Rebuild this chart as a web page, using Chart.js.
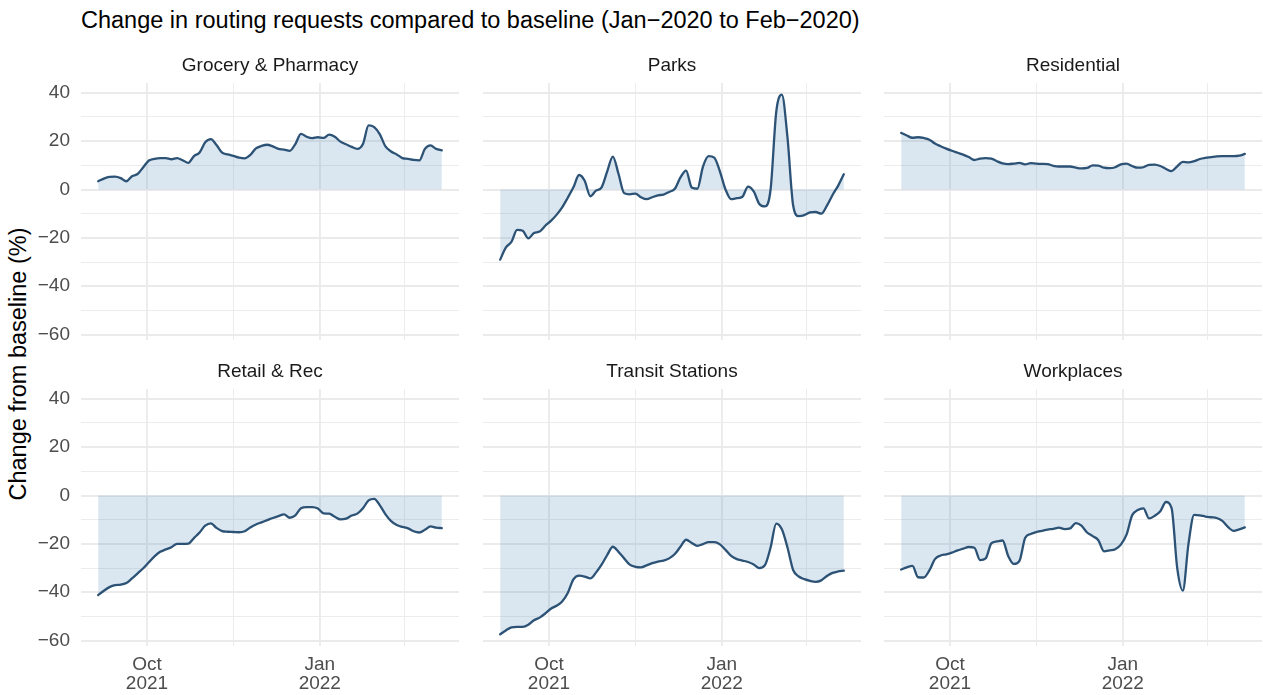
<!DOCTYPE html>
<html>
<head>
<meta charset="utf-8">
<script src="https://cdn.jsdelivr.net/npm/chart.js@4.4.1/dist/chart.umd.min.js"></script>
<style>
  html, body { margin: 0; padding: 0; background: #ffffff; }
  body {
    width: 1263px; height: 695px; position: relative; overflow: hidden;
    font-family: "Liberation Sans", Arial, Helvetica, sans-serif;
  }
  #title {
    position: absolute; left: 81px; top: 9.4px;
    font-size: 23.5px; line-height: 1; color: #000; white-space: nowrap;
  }
  #ytitle {
    position: absolute; left: 19px; top: 364px;
    font-size: 23.5px; line-height: 1; color: #000; white-space: nowrap;
    transform: translate(-50%, -50%) rotate(-90deg);
  }
  canvas { position: absolute; }
</style>
</head>
<body>
<div id="title">Change in routing requests compared to baseline (Jan−2020 to Feb−2020)</div>
<div id="ytitle">Change from baseline (%)</div>
<script>
const FONT = '"Liberation Sans", Arial, Helvetica, sans-serif';

// Observation dates (every third day)
const DATES = [
  '2021-09-05','2021-09-08','2021-09-11','2021-09-14','2021-09-17','2021-09-20','2021-09-23','2021-09-26','2021-09-29',
  '2021-10-02','2021-10-05','2021-10-08','2021-10-11','2021-10-14','2021-10-17','2021-10-20','2021-10-23','2021-10-26','2021-10-29',
  '2021-11-01','2021-11-04','2021-11-07','2021-11-10','2021-11-13','2021-11-16','2021-11-19','2021-11-22','2021-11-25','2021-11-28',
  '2021-12-01','2021-12-04','2021-12-07','2021-12-10','2021-12-13','2021-12-16','2021-12-19','2021-12-22','2021-12-25','2021-12-28','2021-12-31',
  '2022-01-03','2022-01-06','2022-01-09','2022-01-12','2022-01-15','2022-01-18','2022-01-21','2022-01-24','2022-01-27','2022-01-30',
  '2022-02-02','2022-02-05','2022-02-08','2022-02-11','2022-02-14','2022-02-17','2022-02-20','2022-02-23','2022-02-26',
  '2022-03-01','2022-03-04','2022-03-07'
];

const PANEL_NAMES = ['Grocery & Pharmacy', 'Parks', 'Residential', 'Retail & Rec', 'Transit Stations', 'Workplaces'];

// Change from baseline (%), one value per date
const GROCERY = [3.4, 4.5, 5.2, 5.3, 4.7, 3.4, 5.5, 6.4, 9.2, 12.0, 12.7, 13.0, 13.0, 12.5, 13.0, 12.1, 11.0, 13.8, 15.3, 19.5,
  20.8, 18.4, 15.2, 14.5, 13.9, 13.2, 12.9, 14.3, 17.0, 18.0, 18.5, 17.8, 16.8, 16.5, 16.0, 18.8, 23.0, 21.8, 21.2, 21.6,
  21.3, 22.7, 21.8, 19.8, 18.7, 17.6, 16.8, 18.8, 26.5, 25.8, 22.8, 17.8, 15.7, 14.5, 13.0, 12.7, 12.2, 12.0, 16.8, 18.2,
  16.8, 16.2];
const PARKS = [-29.0, -24.0, -21.7, -16.7, -17.1, -20.2, -18.0, -17.4, -15.0, -13.0, -10.5, -7.4, -3.4, 0.9, 6.0, 3.6, -2.8, -0.5, 0.9, 7.5,
  13.6, 6.5, -1.5, -2.0, -1.7, -3.2, -4.0, -3.2, -2.4, -2.1, -1.0, 0.3, 5.0, 7.8, 0.8, 0.3, 9.5, 13.8, 13.2, 7.5,
  0.0, -4.0, -3.6, -3.0, 1.2, -0.8, -6.0, -7.0, 0.0, 32.0, 39.2, 21.5, -6.5, -11.0, -10.6, -9.5, -9.3, -10.0, -6.7, -2.3,
  1.6, 6.3];
const RESIDENTIAL = [23.4, 22.3, 21.4, 21.6, 21.3, 20.6, 19.0, 17.9, 16.9, 16.0, 15.2, 14.4, 13.4, 12.2, 12.8, 13.0, 12.8, 11.7, 10.8, 10.5,
  10.7, 11.0, 10.4, 10.9, 10.7, 10.6, 10.5, 9.8, 9.5, 9.5, 9.5, 9.0, 8.7, 8.9, 10.0, 9.9, 9.0, 8.8, 9.2, 10.4,
  10.7, 9.7, 9.0, 9.2, 10.2, 10.3, 9.7, 8.5, 7.6, 9.6, 11.4, 11.2, 11.7, 12.6, 13.1, 13.4, 13.7, 13.8, 13.8, 13.8,
  14.0, 14.7];
const RETAIL = [-41.2, -39.4, -37.9, -37.1, -36.9, -36.2, -34.3, -32.2, -30.1, -27.6, -25.2, -23.3, -22.3, -21.4, -20.0, -20.0, -19.9, -17.6, -15.3, -12.5,
  -11.5, -13.4, -14.7, -15.0, -15.1, -15.2, -14.8, -13.2, -12.0, -11.1, -10.2, -9.3, -8.5, -7.8, -9.2, -8.2, -5.3, -4.8, -4.8, -5.4,
  -7.4, -7.5, -8.8, -9.9, -9.6, -8.3, -7.5, -5.3, -2.0, -1.4, -4.1, -7.8, -10.6, -12.2, -13.0, -13.6, -14.8, -15.3, -14.2, -12.8,
  -13.3, -13.5];
const TRANSIT = [-57.4, -55.8, -54.5, -54.3, -54.3, -53.4, -51.6, -50.5, -48.8, -46.8, -45.6, -43.8, -40.3, -34.7, -33.1, -33.5, -34.3, -31.9, -28.6, -24.6,
  -21.2, -23.3, -26.0, -28.6, -29.5, -29.7, -28.9, -28.0, -27.3, -26.9, -26.0, -24.2, -21.2, -18.3, -19.6, -20.8, -20.1, -19.3, -19.3, -20.2,
  -22.5, -25.0, -26.3, -26.9, -27.5, -28.5, -30.0, -28.8, -21.5, -11.6, -14.0, -21.5, -30.8, -33.5, -34.6, -35.3, -35.7, -35.1, -33.3, -32.0,
  -31.4, -31.1];
const WORKPLACES = [-30.6, -29.7, -29.1, -33.8, -33.9, -31.0, -26.3, -24.8, -24.3, -23.6, -22.7, -22.0, -21.3, -21.6, -26.7, -26.0, -19.8, -19.0, -18.6, -25.0,
  -28.3, -27.0, -17.6, -15.9, -15.1, -14.6, -14.1, -13.8, -13.3, -13.9, -13.6, -11.4, -12.5, -15.3, -16.8, -18.5, -23.1, -22.7, -22.2, -20.3,
  -16.2, -8.2, -6.0, -5.3, -9.5, -8.4, -6.5, -2.7, -5.2, -30.0, -39.3, -20.0, -8.0, -8.2, -8.7, -9.0, -9.3, -10.5, -13.0, -14.6,
  -14.0, -13.2];

const SERIES = [GROCERY, PARKS, RESIDENTIAL, RETAIL, TRANSIT, WORKPLACES];

// Axis breaks
const X_MAJOR = ['2021-10-01', '2022-01-01'];
const X_MAJOR_LABELS = [['Oct', '2021'], ['Jan', '2022']];
const X_MINOR = ['2021-11-16', '2022-02-15'];
const Y_MAJOR = [-60, -40, -20, 0, 20, 40];
const Y_MINOR = [-50, -30, -10, 10, 30];

// Dates become day offsets on a linear axis
const DAY_MS = 86400000;
const EPOCH = Date.parse(X_MAJOR[0]);
const toDay = s => (Date.parse(s) - EPOCH) / DAY_MS;
const xs = DATES.map(toDay);
const majorX = X_MAJOR.map(toDay);
const minorX = X_MINOR.map(toDay);
const xTickValues = [...majorX, ...minorX].sort((a, b) => a - b);
const yTickValues = [...Y_MAJOR, ...Y_MINOR].sort((a, b) => a - b);

// Shared (fixed) scales across facets with 5% expansion on each side
const allY = SERIES.flat();
const yLo = Math.min(...allY), yHi = Math.max(...allY);
const yPad = (yHi - yLo) * 0.05;
const xLo = xs[0], xHi = xs[xs.length - 1];
const xPad = (xHi - xLo) * 0.05;

// Facet grid geometry
const COL_LEFT = [81, 483, 884];
const ROW_TOP = [83, 389];
const PANEL_W = 378, PANEL_H = 257;
const STRIP_H = 40, YAXIS_W = 81, XAXIS_H = 49;

const GRID = '#ebebeb';
const LINE = '#2c5276';
const AREA = 'rgba(70, 130, 180, 0.2)';
const fmt = v => (v < 0 ? '\u2212' + Math.abs(v) : String(v));

SERIES.forEach((values, i) => {
  const row = Math.floor(i / 3), col = i % 3;
  const leftW = col === 0 ? YAXIS_W : 0;
  const bottomH = row === 1 ? XAXIS_H : 0;
  const w = PANEL_W + leftW;
  const h = PANEL_H + STRIP_H + bottomH;

  const canvas = document.createElement('canvas');
  canvas.width = w; canvas.height = h;
  canvas.style.width = w + 'px'; canvas.style.height = h + 'px';
  canvas.style.left = (COL_LEFT[col] - leftW) + 'px';
  canvas.style.top = (ROW_TOP[row] - STRIP_H) + 'px';
  document.body.appendChild(canvas);

  new Chart(canvas, {
    type: 'line',
    data: {
      datasets: [{
        data: xs.map((x, k) => ({ x, y: values[k] })),
        borderColor: LINE,
        borderWidth: 2.3,
        backgroundColor: AREA,
        fill: 'origin',
        pointRadius: 0,
        cubicInterpolationMode: 'monotone',
        borderJoinStyle: 'round',
        borderCapStyle: 'round'
      }]
    },
    options: {
      responsive: false,
      animation: false,
      devicePixelRatio: 1,
      events: [],
      layout: { padding: 0, autoPadding: false },
      plugins: {
        legend: { display: false },
        tooltip: { enabled: false },
        title: {
          display: true,
          text: PANEL_NAMES[i],
          fullSize: false,
          color: '#1a1a1a',
          font: { family: FONT, size: 19, weight: 'normal', lineHeight: 1.2 },
          padding: { top: 11, bottom: 6.2 }
        }
      },
      scales: {
        x: {
          type: 'linear',
          min: xLo - xPad,
          max: xHi + xPad,
          afterBuildTicks: s => { s.ticks = xTickValues.map(v => ({ value: v })); },
          afterFit: s => { s.height = bottomH; s.paddingLeft = 0; s.paddingRight = 0; },
          ticks: {
            display: row === 1,
            autoSkip: false,
            maxRotation: 0,
            padding: 9.6,
            color: '#4d4d4d',
            font: { family: FONT, size: 19, lineHeight: 1.0 },
            callback: v => {
              const k = majorX.indexOf(v);
              return k >= 0 ? X_MAJOR_LABELS[k] : '';
            }
          },
          grid: {
            drawTicks: false,
            color: GRID,
            lineWidth: c => (c.tick && majorX.includes(c.tick.value) ? 1.9 : 0.95)
          },
          border: { display: false }
        },
        y: {
          type: 'linear',
          min: yLo - yPad,
          max: yHi + yPad,
          afterBuildTicks: s => { s.ticks = yTickValues.map(v => ({ value: v })); },
          afterFit: s => { s.width = leftW; s.paddingTop = 0; s.paddingBottom = 0; },
          ticks: {
            display: col === 0,
            autoSkip: false,
            padding: 11,
            color: '#4d4d4d',
            font: { family: FONT, size: 19, lineHeight: 1.0 },
            callback: v => (Y_MAJOR.includes(v) ? fmt(v) : '')
          },
          grid: {
            drawTicks: false,
            color: GRID,
            lineWidth: c => (c.tick && Y_MAJOR.includes(c.tick.value) ? 1.9 : 0.95)
          },
          border: { display: false }
        }
      }
    }
  });
});
</script>
</body>
</html>
